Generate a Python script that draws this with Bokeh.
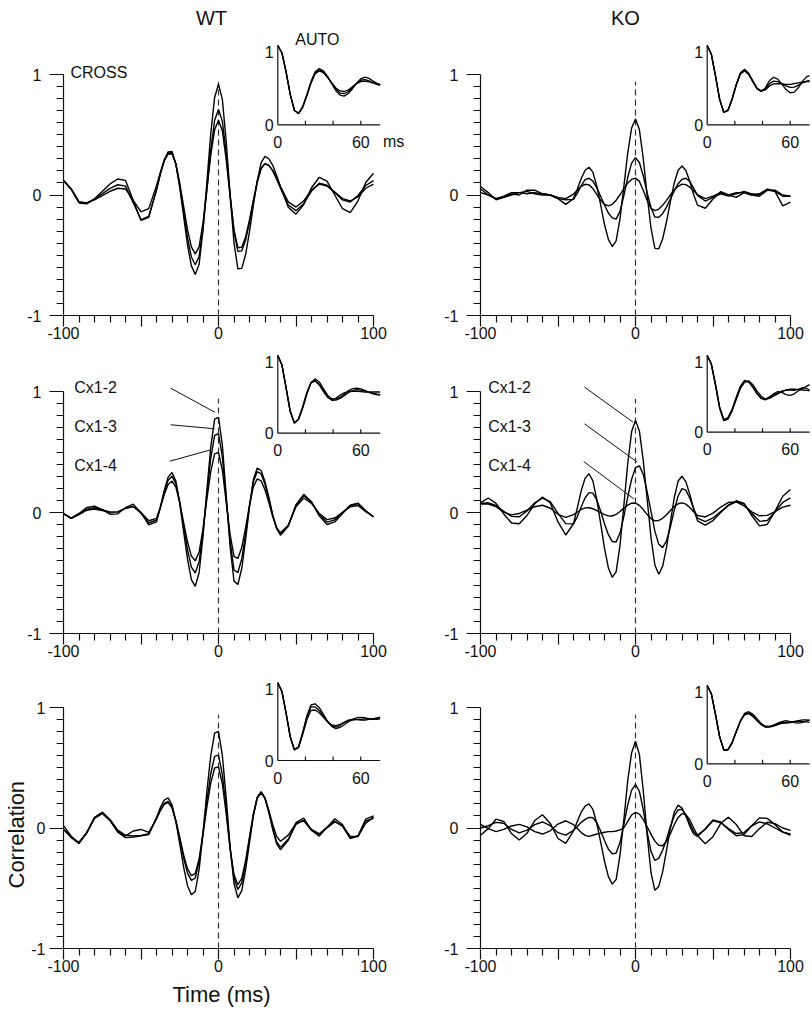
from bokeh.plotting import figure
from bokeh.models import Range1d, LinearAxis, FixedTicker, Label, Title
from bokeh.layouts import column, row
from bokeh.embed import file_html
from bokeh.resources import INLINE

# ---------------- data ----------------
lag_ms = [-100, -95, -90, -85, -80, -75, -70, -65, -60, -55, -50, -45, -40,
          -37.5, -35, -32.5, -30, -27.5, -25, -22.5, -20,
          -17.5, -15, -12.5, -10, -7.5, -5, -2.5, 0, 2.5, 5, 7.5, 10, 12.5, 15, 17.5,
          20, 22.5, 25, 27.5, 30, 32.5, 35, 37.5,
          40, 45, 50, 55, 60, 65, 70, 75, 80, 85, 90, 95, 100]

auto_lag_ms = [0, 3, 6, 9, 12, 15, 18, 21, 24, 27, 30, 33, 36, 39, 42, 45, 48, 51,
               54, 57, 60, 63, 66, 69, 72, 74]

# WT, row 1
wt1_cross_a = [0.12, 0.046, -0.066, -0.073, -0.032, 0.03, 0.092, 0.133, 0.121, -0.045, -0.211, -0.186, 0.043,
               0.178, 0.292, 0.358, 0.361, 0.257, 0.061, -0.176, -0.413,
               -0.588, -0.659, -0.575, -0.289, 0.105, 0.509, 0.809, 0.92, 0.791, 0.44, -0.001, -0.398, -0.613, -0.609, -0.494,
               -0.304, -0.084, 0.12, 0.269, 0.32, 0.301, 0.246, 0.162,
               0.068, -0.102, -0.159, -0.079, 0.06, 0.147, 0.115, 0.0, -0.114, -0.147, -0.048, 0.104, 0.18]
wt1_cross_b = [0.12, 0.05, -0.057, -0.065, -0.035, 0.01, 0.055, 0.085, 0.074, -0.065, -0.205, -0.177, 0.044,
               0.174, 0.285, 0.348, 0.352, 0.257, 0.078, -0.138, -0.354,
               -0.514, -0.579, -0.51, -0.277, 0.044, 0.375, 0.62, 0.71, 0.611, 0.341, 0.003, -0.302, -0.467, -0.464, -0.374,
               -0.226, -0.054, 0.105, 0.22, 0.26, 0.244, 0.2, 0.131,
               0.056, -0.083, -0.13, -0.07, 0.033, 0.098, 0.081, 0.02, -0.041, -0.058, -0.004, 0.079, 0.12]
wt1_cross_c = [0.12, 0.05, -0.057, -0.066, -0.041, -0.005, 0.031, 0.056, 0.05, -0.045, -0.14, -0.113, 0.078,
               0.19, 0.285, 0.34, 0.342, 0.258, 0.098, -0.095, -0.288,
               -0.431, -0.489, -0.43, -0.229, 0.047, 0.331, 0.542, 0.62, 0.531, 0.288, -0.016, -0.29, -0.438, -0.434, -0.348,
               -0.206, -0.042, 0.111, 0.222, 0.26, 0.246, 0.204, 0.141,
               0.071, -0.057, -0.1, -0.048, 0.042, 0.09, 0.075, 0.025, -0.03, -0.05, -0.014, 0.056, 0.09]
wt1_auto_a = [1.0, 0.906, 0.666, 0.383, 0.183, 0.145, 0.225, 0.371, 0.533, 0.653, 0.69, 0.663, 0.6, 0.521,
              0.447, 0.4, 0.392, 0.42, 0.471, 0.525, 0.562, 0.57, 0.555, 0.53, 0.508, 0.5]
wt1_auto_b = [1.0, 0.906, 0.666, 0.383, 0.183, 0.145, 0.23, 0.38, 0.545, 0.67, 0.71, 0.68, 0.61, 0.52,
              0.43, 0.375, 0.362, 0.395, 0.455, 0.525, 0.58, 0.6, 0.585, 0.55, 0.52, 0.51]
wt1_auto_c = [1.0, 0.905, 0.662, 0.38, 0.18, 0.14, 0.22, 0.365, 0.525, 0.645, 0.68, 0.656, 0.6, 0.53,
              0.465, 0.427, 0.42, 0.44, 0.48, 0.52, 0.545, 0.55, 0.54, 0.525, 0.51, 0.505]

# KO, row 1
ko1_cross_a = [0.07, 0.02, -0.04, -0.02, 0.01, 0.0, 0.04, 0.04, 0.01, 0.0, -0.03, -0.078, -0.03,
               0.05, 0.137, 0.205, 0.23, 0.19, 0.075, -0.08, -0.245,
               -0.368, -0.428, -0.381, -0.197, 0.071, 0.349, 0.556, 0.63, 0.543, 0.303, -0.002, -0.275, -0.443, -0.447, -0.365,
               -0.222, -0.055, 0.1, 0.205, 0.24, 0.204, 0.114, 0.004,
               -0.084, -0.11, -0.033, 0.028, 0.0, -0.02, 0.02, 0.0, -0.01, 0.04, 0.03, -0.09, -0.06]
ko1_cross_b = [0.05, 0.0, -0.03, -0.01, 0.02, 0.02, 0.01, 0.02, 0.01, 0.0, -0.03, -0.04, -0.036,
               0.015, 0.078, 0.127, 0.139, 0.115, 0.061, -0.01, -0.083,
               -0.149, -0.19, -0.2, -0.136, -0.004, 0.147, 0.264, 0.31, 0.27, 0.16, 0.02, -0.105, -0.182, -0.185, -0.155,
               -0.101, -0.033, 0.034, 0.094, 0.13, 0.139, 0.112, 0.057,
               -0.003, -0.05, -0.02, 0.01, -0.01, 0.01, 0.03, 0.01, 0.0, 0.04, 0.04, 0.0, -0.01]
ko1_cross_c = [0.02, 0.0, -0.03, -0.02, 0.0, 0.02, 0.03, 0.01, 0.0, 0.0, -0.02, -0.03, 0.007,
               0.041, 0.072, 0.089, 0.084, 0.053, 0.005, -0.043, -0.079,
               -0.09, -0.077, -0.044, 0.002, 0.053, 0.099, 0.129, 0.14, 0.113, 0.04, -0.046, -0.111, -0.13, -0.117, -0.086,
               -0.044, 0.0, 0.042, 0.072, 0.09, 0.086, 0.065, 0.035,
               0.003, -0.03, -0.01, 0.02, 0.0, 0.02, 0.02, 0.0, 0.01, 0.05, 0.03, -0.01, -0.01]
ko1_auto_a = [1.0, 0.889, 0.617, 0.32, 0.158, 0.182, 0.323, 0.504, 0.647, 0.69, 0.641, 0.547, 0.456, 0.42,
              0.465, 0.555, 0.6, 0.575, 0.512, 0.444, 0.404, 0.412, 0.47, 0.55, 0.608, 0.62]
ko1_auto_b = [1.0, 0.89, 0.62, 0.325, 0.16, 0.185, 0.33, 0.51, 0.655, 0.7, 0.65, 0.555, 0.465, 0.43,
              0.45, 0.52, 0.55, 0.545, 0.52, 0.49, 0.472, 0.475, 0.5, 0.53, 0.55, 0.56]
ko1_auto_c = [1.0, 0.888, 0.615, 0.318, 0.155, 0.178, 0.318, 0.498, 0.64, 0.68, 0.635, 0.54, 0.455, 0.425,
              0.44, 0.49, 0.515, 0.52, 0.515, 0.51, 0.51, 0.52, 0.53, 0.54, 0.545, 0.545]

# WT, row 2
wt2_cross_a = [-0.01, -0.047, -0.008, 0.041, 0.053, 0.023, -0.014, -0.011, 0.041, 0.069, -0.002, -0.103, -0.077,
               0.042, 0.182, 0.292, 0.33, 0.259, 0.076, -0.159, -0.384,
               -0.554, -0.61, -0.496, -0.198, 0.185, 0.54, 0.772, 0.787, 0.554, 0.135, -0.283, -0.567, -0.595, -0.463, -0.223,
               0.047, 0.272, 0.367, 0.347, 0.255, 0.124, -0.022, -0.134,
               -0.188, -0.114, 0.065, 0.15, 0.088, -0.028, -0.099, -0.078, -0.008, 0.06, 0.078, 0.014, -0.035]
wt2_cross_b = [-0.01, -0.048, -0.014, 0.028, 0.039, 0.023, 0.003, 0.005, 0.034, 0.05, -0.007, -0.087, -0.062,
               0.044, 0.168, 0.266, 0.3, 0.239, 0.084, -0.116, -0.308,
               -0.452, -0.5, -0.406, -0.161, 0.155, 0.448, 0.638, 0.651, 0.458, 0.11, -0.239, -0.475, -0.497, -0.382, -0.174,
               0.06, 0.255, 0.337, 0.319, 0.233, 0.111, -0.024, -0.128,
               -0.178, -0.108, 0.06, 0.14, 0.085, -0.016, -0.079, -0.061, -0.001, 0.058, 0.073, 0.012, -0.035]
wt2_cross_c = [-0.01, -0.048, -0.018, 0.019, 0.029, 0.017, 0.003, 0.005, 0.034, 0.05, 0.001, -0.068, -0.048,
               0.042, 0.148, 0.231, 0.26, 0.21, 0.082, -0.083, -0.242,
               -0.36, -0.4, -0.327, -0.136, 0.11, 0.337, 0.485, 0.496, 0.348, 0.082, -0.183, -0.363, -0.38, -0.29, -0.125,
               0.059, 0.213, 0.278, 0.262, 0.187, 0.082, -0.035, -0.125,
               -0.168, -0.105, 0.048, 0.12, 0.075, -0.008, -0.059, -0.045, 0.001, 0.047, 0.058, 0.006, -0.035]
wt2_auto_a = [1.0, 0.878, 0.582, 0.278, 0.13, 0.181, 0.334, 0.518, 0.652, 0.677, 0.631, 0.55, 0.469, 0.423,
              0.425, 0.448, 0.484, 0.521, 0.549, 0.56, 0.555, 0.544, 0.527, 0.512, 0.502, 0.5]
wt2_auto_b = [1.0, 0.88, 0.59, 0.285, 0.135, 0.175, 0.32, 0.505, 0.65, 0.7, 0.66, 0.575, 0.49, 0.445,
              0.44, 0.46, 0.5, 0.545, 0.575, 0.58, 0.57, 0.55, 0.525, 0.505, 0.495, 0.49]
wt2_auto_c = [1.0, 0.876, 0.578, 0.275, 0.128, 0.185, 0.34, 0.52, 0.65, 0.67, 0.62, 0.535, 0.46, 0.43,
              0.45, 0.49, 0.52, 0.535, 0.54, 0.54, 0.535, 0.53, 0.53, 0.53, 0.53, 0.53]

# KO, row 2
ko2_cross_a = [0.08, 0.12, 0.076, -0.012, -0.087, -0.093, -0.024, 0.073, 0.128, 0.079, -0.078, -0.186, -0.093,
               0.04, 0.181, 0.284, 0.32, 0.262, 0.109, -0.089, -0.295,
               -0.458, -0.536, -0.491, -0.272, 0.06, 0.405, 0.669, 0.76, 0.674, 0.43, 0.112, -0.205, -0.434, -0.51, -0.445,
               -0.289, -0.081, 0.122, 0.26, 0.3, 0.253, 0.152, 0.031,
               -0.069, -0.105, -0.067, -0.001, 0.062, 0.097, 0.076, -0.025, -0.111, -0.098, 0.01, 0.134, 0.19]
ko2_cross_b = [0.075, 0.08, 0.058, 0.009, -0.032, -0.035, 0.013, 0.08, 0.119, 0.09, -0.007, -0.092, -0.094,
               -0.034, 0.047, 0.122, 0.164, 0.16, 0.105, 0.012, -0.093,
               -0.183, -0.24, -0.244, -0.17, -0.032, 0.128, 0.275, 0.371, 0.386, 0.315, 0.172, 0.009, -0.154, -0.263, -0.29,
               -0.234, -0.121, 0.019, 0.136, 0.197, 0.185, 0.12, 0.032,
               -0.046, -0.076, -0.045, 0.008, 0.059, 0.088, 0.071, -0.007, -0.073, -0.066, 0.004, 0.084, 0.12]
ko2_cross_c = [0.07, 0.07, 0.048, 0.003, -0.02, -0.008, 0.02, 0.048, 0.06, 0.035, -0.015, -0.04, -0.018,
               0.004, 0.025, 0.038, 0.039, 0.031, 0.016, -0.002, -0.018,
               -0.028, -0.029, -0.016, 0.008, 0.036, 0.061, 0.077, 0.078, 0.059, 0.024, -0.017, -0.05, -0.069, -0.066, -0.048,
               -0.018, 0.017, 0.049, 0.072, 0.08, 0.069, 0.042, 0.006,
               -0.024, -0.037, -0.005, 0.045, 0.083, 0.087, 0.054, 0.006, -0.027, -0.024, 0.007, 0.044, 0.06]
ko2_auto_a = [1.0, 0.889, 0.617, 0.32, 0.158, 0.176, 0.288, 0.441, 0.587, 0.665, 0.657, 0.595, 0.51, 0.443,
              0.42, 0.45, 0.5, 0.53, 0.52, 0.49, 0.48, 0.5, 0.54, 0.57, 0.6, 0.62]
ko2_auto_b = [1.0, 0.885, 0.61, 0.31, 0.15, 0.17, 0.275, 0.425, 0.57, 0.65, 0.67, 0.62, 0.54, 0.47,
              0.43, 0.44, 0.47, 0.5, 0.53, 0.55, 0.56, 0.56, 0.555, 0.55, 0.545, 0.54]
ko2_auto_c = [1.0, 0.892, 0.625, 0.33, 0.165, 0.19, 0.3, 0.455, 0.6, 0.675, 0.655, 0.585, 0.5, 0.44,
              0.43, 0.46, 0.49, 0.51, 0.535, 0.55, 0.55, 0.545, 0.56, 0.58, 0.57, 0.55]

# WT, row 3
wt3_cross_a = [0.02, -0.068, -0.128, -0.04, 0.086, 0.13, 0.065, -0.034, -0.08, -0.075, -0.065, -0.055, 0.087,
               0.17, 0.232, 0.25, 0.193, 0.052, -0.131, -0.325, -0.479,
               -0.554, -0.527, -0.343, -0.042, 0.303, 0.599, 0.787, 0.802, 0.6, 0.246, -0.16, -0.461, -0.58, -0.52, -0.347,
               -0.122, 0.098, 0.252, 0.3, 0.247, 0.127, -0.014, -0.132,
               -0.18, -0.103, 0.044, 0.083, -0.019, -0.067, 0.005, 0.077, 0.029, -0.086, -0.064, 0.074, 0.1]
wt3_cross_b = [-0.01, -0.081, -0.128, -0.04, 0.086, 0.13, 0.071, -0.018, -0.06, -0.065, -0.062, -0.047, 0.077,
               0.15, 0.205, 0.22, 0.174, 0.058, -0.09, -0.249, -0.374,
               -0.435, -0.415, -0.274, -0.042, 0.223, 0.45, 0.595, 0.605, 0.443, 0.157, -0.171, -0.414, -0.51, -0.455, -0.295,
               -0.089, 0.114, 0.256, 0.3, 0.249, 0.134, -0.001, -0.114,
               -0.16, -0.094, 0.031, 0.065, -0.012, -0.048, 0.005, 0.058, 0.014, -0.087, -0.068, 0.058, 0.08]
wt3_cross_c = [-0.01, -0.075, -0.118, -0.037, 0.079, 0.12, 0.061, -0.028, -0.065, -0.025, -0.012, -0.037, 0.077,
               0.145, 0.196, 0.21, 0.167, 0.061, -0.077, -0.223, -0.339,
               -0.396, -0.378, -0.256, -0.055, 0.175, 0.373, 0.498, 0.507, 0.365, 0.114, -0.173, -0.386, -0.47, -0.418, -0.269,
               -0.075, 0.115, 0.249, 0.29, 0.246, 0.146, 0.028, -0.07,
               -0.11, -0.059, 0.039, 0.06, -0.02, -0.05, 0.0, 0.05, 0.02, -0.07, -0.07, 0.04, 0.09]
wt3_auto_a = [1.0, 0.887, 0.609, 0.304, 0.139, 0.173, 0.352, 0.558, 0.691, 0.69, 0.644, 0.573, 0.5, 0.446,
              0.43, 0.45, 0.49, 0.52, 0.53, 0.53, 0.52, 0.52, 0.53, 0.54, 0.55, 0.55]
wt3_auto_b = [1.0, 0.885, 0.605, 0.3, 0.135, 0.165, 0.335, 0.525, 0.645, 0.65, 0.615, 0.555, 0.495, 0.458,
              0.45, 0.465, 0.49, 0.51, 0.52, 0.525, 0.53, 0.535, 0.535, 0.53, 0.53, 0.535]
wt3_auto_c = [1.0, 0.889, 0.612, 0.307, 0.14, 0.178, 0.36, 0.575, 0.715, 0.73, 0.68, 0.595, 0.505, 0.44,
              0.41, 0.425, 0.46, 0.5, 0.53, 0.55, 0.555, 0.55, 0.54, 0.535, 0.545, 0.56]

# KO, row 3
ko3_cross_a = [-0.06, -0.005, 0.073, 0.054, -0.046, -0.1, -0.044, 0.062, 0.11, 0.038, -0.087, -0.128, -0.024,
               0.055, 0.132, 0.182, 0.2, 0.154, 0.039, -0.115, -0.276,
               -0.403, -0.466, -0.428, -0.225, 0.071, 0.395, 0.625, 0.72, 0.611, 0.311, -0.055, -0.371, -0.517, -0.485, -0.364,
               -0.186, -0.004, 0.133, 0.19, 0.165, 0.099, 0.016, -0.049,
               -0.07, -0.006, 0.067, 0.05, -0.013, -0.064, -0.055, 0.018, 0.084, 0.08, 0.028, -0.033, -0.06]
ko3_cross_b = [0.0, 0.019, 0.047, 0.039, -0.011, -0.04, -0.018, 0.028, 0.05, 0.019, -0.039, -0.059, -0.019,
               0.013, 0.047, 0.072, 0.088, 0.085, 0.045, -0.025, -0.104,
               -0.175, -0.214, -0.208, -0.121, 0.031, 0.192, 0.314, 0.36, 0.305, 0.152, -0.034, -0.194, -0.269, -0.252, -0.184,
               -0.094, 0.012, 0.1, 0.151, 0.155, 0.109, 0.038, -0.029,
               -0.059, -0.011, 0.059, 0.044, -0.005, -0.046, -0.038, 0.018, 0.05, 0.035, 0.0, -0.035, -0.05]
ko3_cross_c = [0.03, -0.005, -0.03, -0.011, 0.017, 0.03, 0.01, -0.03, -0.05, -0.023, 0.033, 0.06, 0.028,
               -0.005, -0.038, -0.061, -0.07, -0.06, -0.05, -0.042, -0.035,
               -0.03, -0.03, -0.025, -0.015, 0.002, 0.055, 0.108, 0.13, 0.115, 0.072, 0.012, -0.053, -0.109, -0.143, -0.147,
               -0.112, -0.047, 0.027, 0.088, 0.119, 0.11, 0.069, 0.002,
               -0.062, -0.13, -0.072, 0.039, 0.09, 0.029, -0.064, -0.07, -0.005, 0.048, 0.036, 0.0, -0.02]
ko3_auto_a = [1.0, 0.895, 0.63, 0.345, 0.177, 0.179, 0.268, 0.405, 0.542, 0.63, 0.648, 0.616, 0.56, 0.504,
              0.472, 0.475, 0.49, 0.51, 0.525, 0.53, 0.535, 0.54, 0.545, 0.54, 0.535, 0.53]
ko3_auto_b = [1.0, 0.893, 0.625, 0.34, 0.172, 0.175, 0.265, 0.41, 0.55, 0.645, 0.665, 0.635, 0.575, 0.515,
              0.48, 0.478, 0.495, 0.52, 0.54, 0.55, 0.54, 0.525, 0.52, 0.53, 0.55, 0.56]
ko3_auto_c = [1.0, 0.897, 0.635, 0.35, 0.18, 0.185, 0.275, 0.415, 0.545, 0.625, 0.64, 0.605, 0.55, 0.5,
              0.47, 0.47, 0.48, 0.5, 0.515, 0.52, 0.525, 0.535, 0.55, 0.56, 0.56, 0.55]

group_titles = ["WT", "KO"]
pair_labels = ["Cx1-2", "Cx1-3", "Cx1-4"]
x_tick_values = [-100, -50, 0, 50, 100]
x_tick_labels = ["-100", "", "0", "", "100"]
y_tick_values = [-1, 0, 1]
y_tick_labels = ["-1", "0", "1"]
inset_tick_values = [20, 40, 60]

# ---------------- layout / style ----------------
FONT = "Liberation Sans"
INK = "#111111"
PX_PER_MS = 1.55
INSET_PX_PER_MS = 1.383
COLS = [dict(left=63, frame_w=341, right=0), dict(left=76, frame_w=330, right=0)]
ROWS = [dict(frame_h=315, bottom=32, ppu=120.5),
        dict(frame_h=286, bottom=32, ppu=121.0),
        dict(frame_h=283, bottom=65, ppu=120.5)]
# inset origin (px from frame left / frame bottom) and height of one unit (px)
INSETS = {(0, 0): (214.3, 190.7, 79.3), (1, 0): (226.7, 190.7, 79.3),
          (0, 1): (214.3, 200.3, 77.7), (1, 1): (226.7, 201.3, 76.7),
          (0, 2): (214.3, 188.0, 77.7), (1, 2): (226.7, 184.7, 78.3)}


def style_axis(ax, tick_out, minor_out, standoff):
    ax.axis_line_color = INK
    ax.axis_line_width = 1.2
    ax.major_tick_line_color = INK
    ax.major_tick_line_width = 1.2
    ax.minor_tick_line_color = INK
    ax.minor_tick_line_width = 1.2
    ax.major_tick_in = 0
    ax.major_tick_out = tick_out
    ax.minor_tick_in = 0
    ax.minor_tick_out = minor_out
    ax.major_label_text_font = FONT
    ax.major_label_text_font_size = "16px"
    ax.major_label_text_color = INK
    ax.major_label_standoff = standoff


def label(p, x, y, text, size="16px", align="left", baseline="middle", **kw):
    p.add_layout(Label(x=x, y=y, text=text, text_font=FONT, text_font_size=size,
                       text_color=INK, text_align=align, text_baseline=baseline, **kw))


def side_title(text, offset, standoff):
    return Title(text=text, align="left", offset=offset, standoff=standoff,
                 text_font=FONT, text_font_size="22px", text_font_style="normal",
                 text_color=INK)


def make_panel(col, r, cross, auto, y_label_standoff=8):
    c, rw = COLS[col], ROWS[r]
    fw, fh, ppu = c["frame_w"], rw["frame_h"], rw["ppu"]
    p = figure(width=c["left"] + fw + c["right"], height=fh + rw["bottom"],
               x_range=Range1d(-100, -100 + fw / PX_PER_MS),
               y_range=Range1d(-1, -1 + fh / ppu),
               x_axis_type=None, y_axis_type=None,
               output_backend="svg", toolbar_location=None,
               min_border_left=c["left"], min_border_right=c["right"],
               min_border_top=0, min_border_bottom=rw["bottom"],
               outline_line_color=None, background_fill_color="white",
               border_fill_color="white")

    x_minor = [v for v in range(-90, 100, 10) if v % 50 != 0]
    xax = LinearAxis(ticker=FixedTicker(ticks=x_tick_values, minor_ticks=x_minor),
                     bounds=(-100, 100),
                     major_label_overrides=dict(zip(x_tick_values, x_tick_labels)))
    style_axis(xax, 11, 7, 0)
    p.add_layout(xax, "below")

    y_minor = [round(-1 + 0.1 * i, 1) for i in range(1, 20) if i != 10]
    yax = LinearAxis(ticker=FixedTicker(ticks=y_tick_values, minor_ticks=y_minor),
                     bounds=(-1, 1),
                     major_label_overrides=dict(zip(y_tick_values, y_tick_labels)))
    style_axis(yax, 14, 7, y_label_standoff)
    p.add_layout(yax, "left")

    # zero-lag reference line
    p.segment(x0=[0], y0=[-1], x1=[0], y1=[0.94], line_color="#333333",
              line_width=1.2, line_dash="6 4")

    for ys in cross:
        p.line(lag_ms, ys, line_color="black", line_width=1.4)

    # ---- inset (autocorrelograms) on its own scales ----
    ox, oy, hpx = INSETS[(col, r)]
    sx = INSET_PX_PER_MS / PX_PER_MS
    sy = hpx / ppu
    X0 = -100 + ox / PX_PER_MS
    Y0 = -1 + oy / ppu
    xr, yr = p.x_range, p.y_range
    p.extra_x_ranges = {"ix": Range1d((xr.start - X0) / sx, (xr.end - X0) / sx)}
    p.extra_y_ranges = {"iy": Range1d((yr.start - Y0) / sy, (yr.end - Y0) / sy)}
    kw = dict(x_range_name="ix", y_range_name="iy")
    for ys in auto:
        p.line(auto_lag_ms, ys, line_color="black", line_width=1.3, **kw)
    end = auto_lag_ms[-1]
    p.segment(x0=[0, 0], y0=[0, 0], x1=[0, end], y1=[1, 0],
              line_color=INK, line_width=1.2, **kw)
    th = 4.0 / hpx
    p.segment(x0=inset_tick_values, y0=[0] * 3, x1=inset_tick_values, y1=[th] * 3,
              line_color=INK, line_width=1.2, **kw)
    dx = -3.0
    dy = -17.0 / hpx
    label(p, dx, 0.92, "1", align="right", **kw)
    label(p, dx, 0.0, "0", align="right", **kw)
    label(p, 0, dy, "0", align="center", **kw)
    label(p, 60, dy, "60", align="center", **kw)
    return p, kw, dy, hpx


data = {(0, 0): ([wt1_cross_a, wt1_cross_b, wt1_cross_c], [wt1_auto_a, wt1_auto_b, wt1_auto_c]),
        (1, 0): ([ko1_cross_a, ko1_cross_b, ko1_cross_c], [ko1_auto_a, ko1_auto_b, ko1_auto_c]),
        (0, 1): ([wt2_cross_a, wt2_cross_b, wt2_cross_c], [wt2_auto_a, wt2_auto_b, wt2_auto_c]),
        (1, 1): ([ko2_cross_a, ko2_cross_b, ko2_cross_c], [ko2_auto_a, ko2_auto_b, ko2_auto_c]),
        (0, 2): ([wt3_cross_a, wt3_cross_b, wt3_cross_c], [wt3_auto_a, wt3_auto_b, wt3_auto_c]),
        (1, 2): ([ko3_cross_a, ko3_cross_b, ko3_cross_c], [ko3_auto_a, ko3_auto_b, ko3_auto_c])}
panels = {}
for key, (cr, au) in data.items():
    standoff = 4 if key == (0, 2) else 8
    panels[key] = make_panel(key[0], key[1], cr, au, y_label_standoff=standoff)

# ---- annotations ----
p, kw, dy, hpx = panels[(0, 0)]
label(p, -4.5, 1.465, group_titles[0], size="20px", align="center")
label(p, -95.5, 1.017, "CROSS")
label(p, 28.6, 1.0 + 6.0 / hpx, "AUTO", align="center", **kw)
label(p, 76.0, dy, "ms", align="left", **kw)

p, kw, dy, hpx = panels[(1, 0)]
label(p, -6.5, 1.465, group_titles[1], size="20px", align="center")

leaders = {0: [(-30.8, 1.027, -2.4, 0.829), (-30.8, 0.725, -2.4, 0.692), (-31.4, 0.424, -5.0, 0.518)],
           1: [(-32.9, 1.036, -1.5, 0.746), (-32.9, 0.733, 1.1, 0.416), (-33.4, 0.421, -1.1, 0.113)]}
label_x = {0: -93.1, 1: -95.0}
label_y = [1.036, 0.713, 0.388]
for col in (0, 1):
    p = panels[(col, 1)][0]
    for name, ly in zip(pair_labels, label_y):
        label(p, label_x[col], ly, name)
    segs = leaders[col]
    p.segment(x0=[s[0] for s in segs], y0=[s[1] for s in segs],
              x1=[s[2] for s in segs], y1=[s[3] for s in segs],
              line_color=INK, line_width=1.0)

# axis titles of the bottom-left panel
p = panels[(0, 2)][0]
p.add_layout(side_title("Correlation", 60, 0), "left")
p.add_layout(side_title("Time (ms)", 109, 10), "below")

layout = column(row(panels[(0, 0)][0], panels[(1, 0)][0]),
                row(panels[(0, 1)][0], panels[(1, 1)][0]),
                row(panels[(0, 2)][0], panels[(1, 2)][0]))

open("out.html", "w").write(file_html(layout, INLINE))
